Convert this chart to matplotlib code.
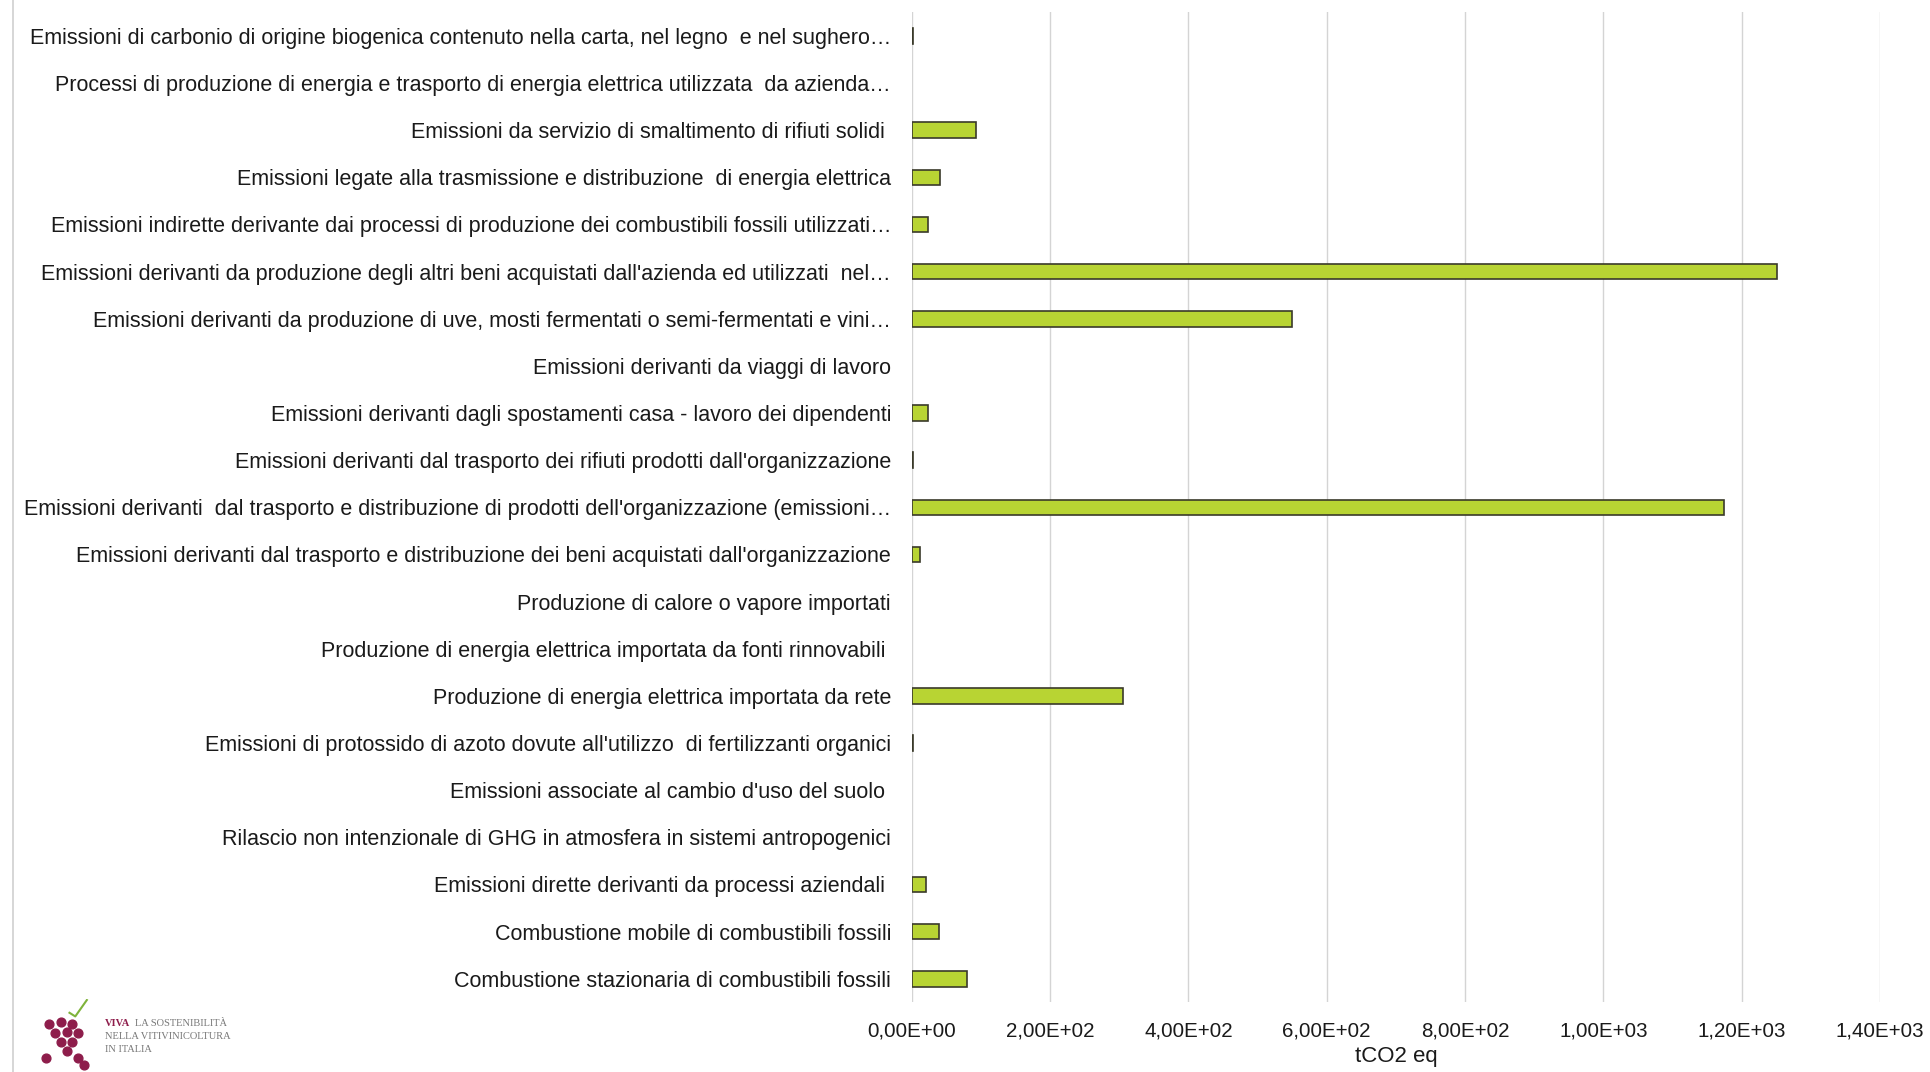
import matplotlib.pyplot as plt
from matplotlib.ticker import FuncFormatter

# --- Data (tCO2 eq), top to bottom as in the chart ---

categories = [
    "Emissioni di carbonio di origine biogenica contenuto nella carta, nel legno  e nel sughero…",
    "Processi di produzione di energia e trasporto di energia elettrica utilizzata  da azienda…",
    "Emissioni da servizio di smaltimento di rifiuti solidi ",
    "Emissioni legate alla trasmissione e distribuzione  di energia elettrica",
    "Emissioni indirette derivante dai processi di produzione dei combustibili fossili utilizzati…",
    "Emissioni derivanti da produzione degli altri beni acquistati dall'azienda ed utilizzati  nel…",
    "Emissioni derivanti da produzione di uve, mosti fermentati o semi-fermentati e vini…",
    "Emissioni derivanti da viaggi di lavoro",
    "Emissioni derivanti dagli spostamenti casa - lavoro dei dipendenti",
    "Emissioni derivanti dal trasporto dei rifiuti prodotti dall'organizzazione",
    "Emissioni derivanti  dal trasporto e distribuzione di prodotti dell'organizzazione (emissioni…",
    "Emissioni derivanti dal trasporto e distribuzione dei beni acquistati dall'organizzazione",
    "Produzione di calore o vapore importati",
    "Produzione di energia elettrica importata da fonti rinnovabili ",
    "Produzione di energia elettrica importata da rete",
    "Emissioni di protossido di azoto dovute all'utilizzo  di fertilizzanti organici",
    "Emissioni associate al cambio d'uso del suolo ",
    "Rilascio non intenzionale di GHG in atmosfera in sistemi antropogenici",
    "Emissioni dirette derivanti da processi aziendali ",
    "Combustione mobile di combustibili fossili",
    "Combustione stazionaria di combustibili fossili",
]
values = [1, 0, 93, 41, 23, 1252, 550, 0, 23, 2, 1174, 12, 0, 0, 305, 2, 0, 0, 21, 39, 80]

x_ticks = [0, 200, 400, 600, 800, 1000, 1200, 1400]

# --- Plot ---

plt.rcParams['font.family'] = ['Liberation Sans', 'DejaVu Sans']

fig = plt.figure(figsize=(19.3, 10.72), dpi=100)
ax = fig.add_axes([0.4725, 0.065, 0.5015, 0.9235])

ypos = list(range(len(categories)))
edges = ['#3a3a2a' if v > 0 else 'none' for v in values]
ax.barh(ypos, values, height=0.33, color='#b8d433', edgecolor=edges, linewidth=1.2, zorder=3)

ax.set_ylim(len(categories) - 0.5, -0.5)
ax.set_xlim(0, 1400)
ax.set_yticks(ypos)
ax.set_yticklabels(categories, fontsize=15.5, color='#1a1a1a')
ax.set_xticks(x_ticks)
ax.xaxis.set_major_formatter(FuncFormatter(
    lambda v, p: ("%.2E" % v).replace('.', ',')))
ax.tick_params(axis='y', length=0, pad=15)
ax.tick_params(axis='x', length=0, pad=14, labelsize=14.8, labelcolor='#1a1a1a')
ax.grid(axis='x', color='#d4d4d4', linewidth=1, zorder=0)
for s in ax.spines.values():
    s.set_visible(False)
ax.set_xlabel('tCO2 eq', fontsize=16, color='#1a1a1a', labelpad=4)

# frame line at left edge of the picture
fig.add_artist(plt.Line2D([0.0065, 0.0065], [0.0, 1.0], color='#d0d0d0', lw=1.2))

# --- Logo (bottom left) ---

lax = fig.add_axes([0.018, 0.0, 0.03, 0.068])
lax.set_xlim(0, 10)
lax.set_ylim(0, 16)
lax.axis('off')
gx = [2.5, 4.5, 6.5, 3.5, 5.5, 7.5, 4.5, 6.5, 5.5, 7.5, 2.0, 8.5]
gy = [10.5, 11.0, 10.5, 8.5, 8.8, 8.5, 6.5, 6.5, 4.5, 3.0, 3.0, 1.5]
lax.scatter(gx, gy, s=40, color='#8e1d4b', zorder=3)
lax.plot([6.0, 7.0, 9.0], [13.0, 12.2, 15.8], color='#7fb33a', lw=1.5)

fig.text(0.0545, 0.043, 'VIVA', fontsize=7.5, color='#8e1d4b', fontweight='bold',
         family='Liberation Serif')
fig.text(0.0700, 0.043, 'LA SOSTENIBILITÀ', fontsize=7.5, color='#777777',
         family='Liberation Serif')
fig.text(0.0545, 0.031, 'NELLA VITIVINICOLTURA', fontsize=7.5, color='#777777',
         family='Liberation Serif')
fig.text(0.0545, 0.019, 'IN ITALIA', fontsize=7.5, color='#777777',
         family='Liberation Serif')

plt.savefig('out.png', dpi=100)
